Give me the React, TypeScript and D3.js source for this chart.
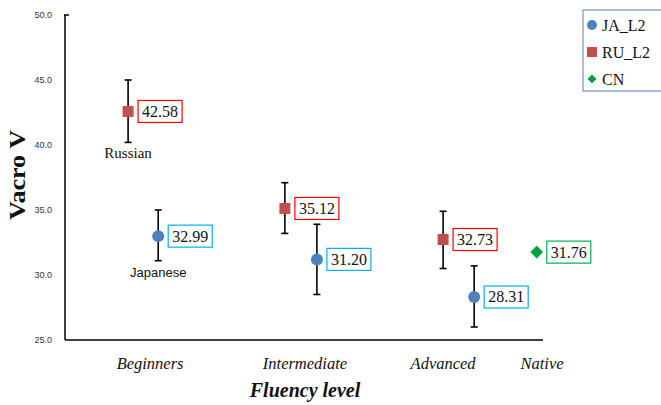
import React from 'react';
import * as d3 from 'd3';

// categories on the x axis (position in category units)
const categories = ['Beginners', 'Intermediate', 'Advanced', 'Native'];
const categoryX = [1.78, 5.02, 7.91, 9.98];

// series
const jaX = [1.95, 5.27, 8.56];
const jaMean = [32.99, 31.2, 28.31];
const jaLow = [31.1, 28.5, 26.0];
const jaHigh = [35.0, 33.9, 30.7];

const ruX = [1.32, 4.6, 7.91];
const ruMean = [42.58, 35.12, 32.73];
const ruLow = [40.2, 33.2, 30.5];
const ruHigh = [45.0, 37.1, 34.9];

const cnX = [9.87];
const cnMean = [31.76];

const yTicks = [25, 30, 35, 40, 45, 50];
const legendItems = ['JA_L2', 'RU_L2', 'CN'];

const W = 661;
const H = 405;
const margin = { top: 15, right: 118, bottom: 65, left: 65 };

const colors = {
  ja: '#4F81BD',
  ru: '#C0504D',
  cn: '#00A040',
  jaBox: '#00B0F0',
  ruBox: '#FF0000',
  cnBox: '#00B050',
};

export default function App() {
  const x = d3.scaleLinear().domain([0, 10]).range([margin.left, W - margin.right]);
  const y = d3.scaleLinear().domain([25, 50]).range([H - margin.bottom, margin.top]);
  const fmt = d3.format('.2f');
  const serif = 'Liberation Serif, Times New Roman, serif';
  const sans = 'Liberation Sans, Arial, sans-serif';

  const errorBar = (xv: number, lo: number, hi: number, key: string) => {
    const cx = x(xv);
    return (
      <g key={key} stroke="#000" strokeWidth={1.6}>
        <line x1={cx} x2={cx} y1={y(hi)} y2={y(lo)} />
        <line x1={cx - 3.5} x2={cx + 3.5} y1={y(hi)} y2={y(hi)} />
        <line x1={cx - 3.5} x2={cx + 3.5} y1={y(lo)} y2={y(lo)} />
      </g>
    );
  };

  const valueBox = (xv: number, v: number, stroke: string, key: string) => {
    const bx = x(xv) + 10;
    const by = y(v);
    return (
      <g key={key}>
        <rect x={bx} y={by - 11} width={44} height={22} fill="#fff" stroke={stroke} strokeWidth={1.2} />
        <text x={bx + 22} y={by + 5.5} textAnchor="middle" fontFamily={serif} fontSize={16} fill="#111">
          {fmt(v)}
        </text>
      </g>
    );
  };

  const diamond = d3.symbol().type(d3.symbolDiamond2).size(110)();
  const legendDiamond = d3.symbol().type(d3.symbolDiamond2).size(50)();

  return (
    <svg width={W} height={H} style={{ position: 'absolute', left: 0, top: 0, background: '#fff' }}>
      {/* y tick labels */}
      {yTicks.map(t => (
        <text key={t} x={52} y={y(t) + 3} textAnchor="end" fontFamily={sans} fontSize={9} fill="#333">
          {t.toFixed(1)}
        </text>
      ))}
      <line x1={margin.left - 1} x2={margin.left + 4} y1={y(50)} y2={y(50)} stroke="#000" strokeWidth={1.5} />

      {/* axes */}
      <line x1={margin.left} x2={margin.left} y1={y(50)} y2={y(25)} stroke="#000" strokeWidth={1.5} />
      <line x1={margin.left} x2={W - margin.right} y1={y(25)} y2={y(25)} stroke="#000" strokeWidth={1.5} />

      {/* category labels */}
      {categories.map((c, i) => (
        <text key={c} x={x(categoryX[i])} y={369} textAnchor="middle" fontFamily={serif} fontStyle="italic" fontSize={16.5} fill="#111">
          {c}
        </text>
      ))}

      <text x={305} y={397} textAnchor="middle" fontFamily={serif} fontStyle="italic" fontWeight="bold" fontSize={20} fill="#111">
        Fluency level
      </text>
      <text transform="translate(25, 175) rotate(-90)" textAnchor="middle" fontFamily={serif} fontWeight="bold" fontSize={23} fill="#111"
        textLength={90} lengthAdjust="spacingAndGlyphs">
        Vacro V
      </text>

      {/* error bars */}
      {ruX.map((xv, i) => errorBar(xv, ruLow[i], ruHigh[i], `rue${i}`))}
      {jaX.map((xv, i) => errorBar(xv, jaLow[i], jaHigh[i], `jae${i}`))}

      {/* markers */}
      {ruX.map((xv, i) => (
        <rect key={`ru${i}`} x={x(xv) - 5.5} y={y(ruMean[i]) - 5.5} width={11} height={11} fill={colors.ru} />
      ))}
      {jaX.map((xv, i) => (
        <circle key={`ja${i}`} cx={x(xv)} cy={y(jaMean[i])} r={6} fill={colors.ja} />
      ))}
      {cnX.map((xv, i) => (
        <path key={`cn${i}`} d={diamond || ''} transform={`translate(${x(xv)}, ${y(cnMean[i])})`} fill={colors.cn} stroke="#c8e6a0" strokeWidth={0.8} />
      ))}

      {/* value boxes */}
      {ruX.map((xv, i) => valueBox(xv, ruMean[i], colors.ruBox, `rub${i}`))}
      {jaX.map((xv, i) => valueBox(xv, jaMean[i], colors.jaBox, `jab${i}`))}
      {cnX.map((xv, i) => valueBox(xv, cnMean[i], colors.cnBox, `cnb${i}`))}

      {/* group annotations */}
      <text x={x(ruX[0])} y={y(ruLow[0]) + 16} textAnchor="middle" fontFamily={serif} fontSize={15} fill="#111">
        Russian
      </text>
      <text x={x(jaX[0])} y={y(jaLow[0]) + 16} textAnchor="middle" fontFamily={sans} fontSize={13} fill="#111">
        Japanese
      </text>

      {/* legend */}
      <rect x={583} y={10} width={90} height={81} fill="#fff" stroke="#4F81BD" strokeWidth={1} />
      {legendItems.map((name, i) => {
        const ly = 25 + i * 27;
        return (
          <g key={name}>
            {i === 0 && <circle cx={592} cy={ly} r={5} fill={colors.ja} />}
            {i === 1 && <rect x={587} y={ly - 5} width={10} height={10} fill={colors.ru} />}
            {i === 2 && <path d={legendDiamond || ''} transform={`translate(592, ${ly})`} fill={colors.cn} />}
            <text x={602} y={ly + 5.5} fontFamily={serif} fontSize={16} fill="#111">
              {name}
            </text>
          </g>
        );
      })}
    </svg>
  );
}
